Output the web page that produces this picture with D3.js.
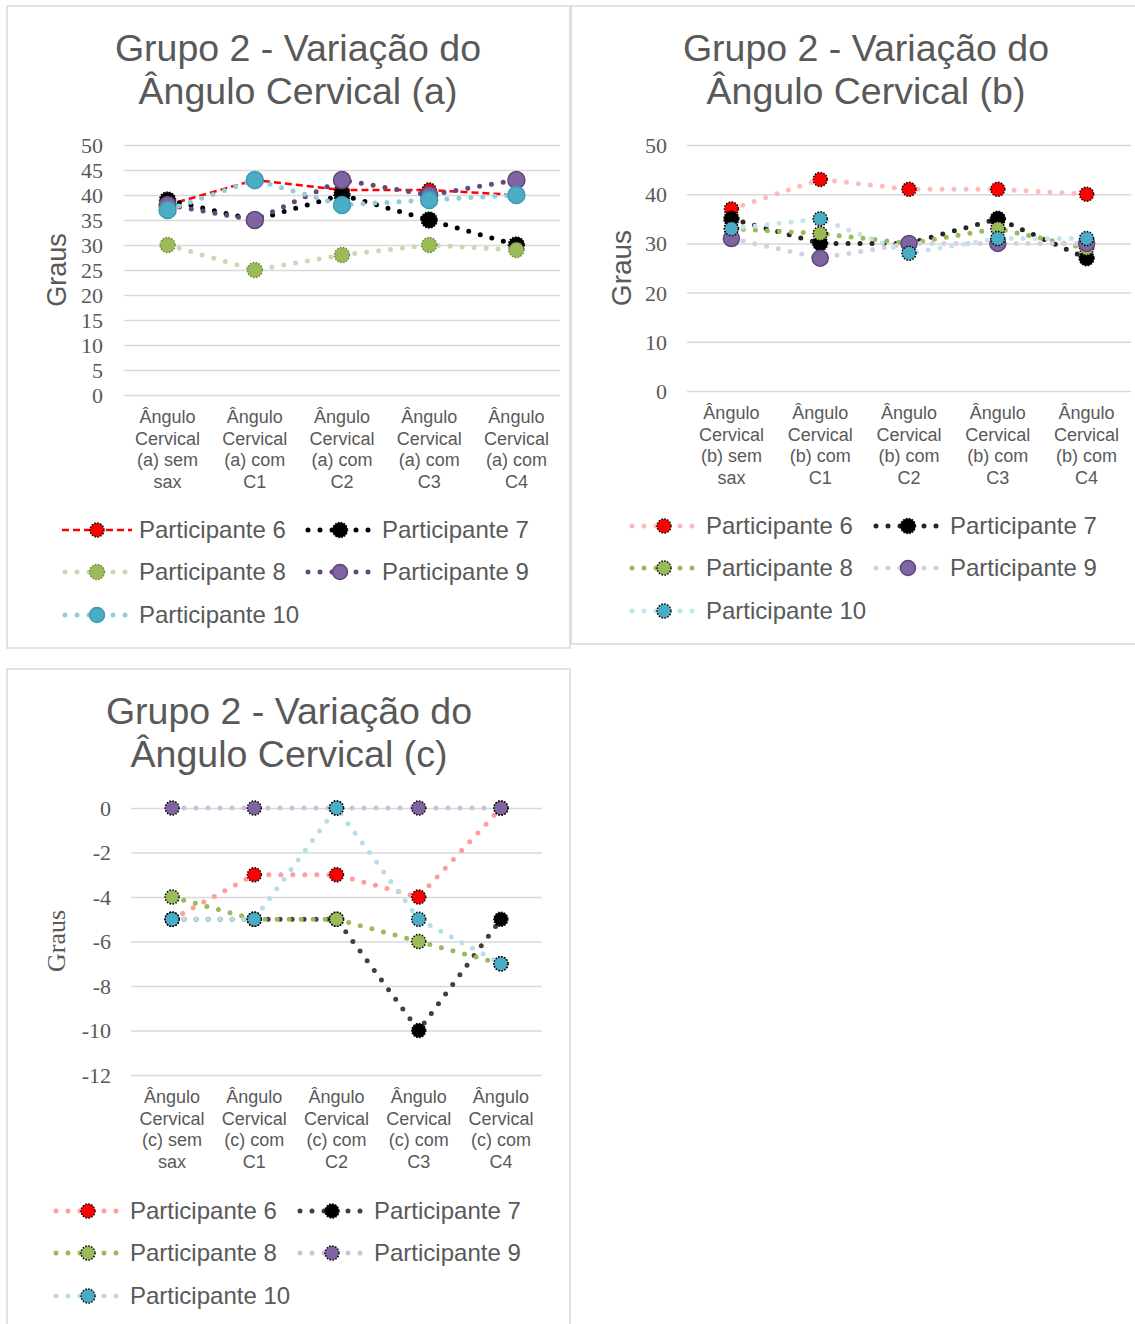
<!DOCTYPE html>
<html>
<head>
<meta charset="utf-8">
<script src="https://cdn.jsdelivr.net/npm/d3@7"></script>
<style>
  html, body { margin: 0; padding: 0; background: #ffffff; }
  svg { display: block; }
</style>
</head>
<body>
<svg id="chart" width="1135" height="1324"></svg>
<script>
// ---------------- DATA ----------------
const seriesNames = ["Participante 6", "Participante 7", "Participante 8", "Participante 9", "Participante 10"];

const categoriesA = [
  ["Ângulo", "Cervical", "(a) sem", "sax"],
  ["Ângulo", "Cervical", "(a) com", "C1"],
  ["Ângulo", "Cervical", "(a) com", "C2"],
  ["Ângulo", "Cervical", "(a) com", "C3"],
  ["Ângulo", "Cervical", "(a) com", "C4"]
];
const categoriesB = [
  ["Ângulo", "Cervical", "(b) sem", "sax"],
  ["Ângulo", "Cervical", "(b) com", "C1"],
  ["Ângulo", "Cervical", "(b) com", "C2"],
  ["Ângulo", "Cervical", "(b) com", "C3"],
  ["Ângulo", "Cervical", "(b) com", "C4"]
];
const categoriesC = [
  ["Ângulo", "Cervical", "(c) sem", "sax"],
  ["Ângulo", "Cervical", "(c) com", "C1"],
  ["Ângulo", "Cervical", "(c) com", "C2"],
  ["Ângulo", "Cervical", "(c) com", "C3"],
  ["Ângulo", "Cervical", "(c) com", "C4"]
];

// values per participant (6,7,8,9,10)
const valuesA = [
  [38, 43, 41, 41, 40],
  [39, 35, 40, 35, 30],
  [30, 25, 28, 30, 29],
  [38, 35, 43, 40, 43],
  [37, 43, 38, 39, 40]
];
const valuesB = [
  [37, 43, 41, 41, 40],
  [35, 30, 30, 35, 27],
  [33, 32, 30, 33, 29],
  [31, 27, 30, 30, 30],
  [33, 35, 28, 31, 31]
];
const valuesC = [
  [-5, -3, -3, -4, 0],
  [-5, -5, -5, -10, -5],
  [-4, -5, -5, -6, -7],
  [0, 0, 0, 0, 0],
  [-5, -5, 0, -5, -7]
];

const ticksA = [0, 5, 10, 15, 20, 25, 30, 35, 40, 45, 50];
const ticksB = [0, 10, 20, 30, 40, 50];
const ticksC = [0, -2, -4, -6, -8, -10, -12];

const titleA = ["Grupo 2 - Variação do", "Ângulo Cervical (a)"];
const titleB = ["Grupo 2 - Variação do", "Ângulo Cervical (b)"];
const titleC = ["Grupo 2 - Variação do", "Ângulo Cervical (c)"];
const axisTitle = "Graus";

// ---------------- STYLES ----------------
const TEXT = "#595959";
const GRID = "#d9d9d9";
const SANS = "'Liberation Sans', Arial, sans-serif";
const SERIF = "'Liberation Serif', 'Times New Roman', serif";

const DOTTED = { width: 5, dash: "0 12" };

const styleA = [
  { line: "#ff0000", width: 2.5, dash: "7 4", fill: "#ff0000", stroke: "#000000", sdash: "1.5 1.5", r: 7 },
  { line: "#000000", ...DOTTED, fill: "#000000", stroke: "#000000", sdash: "1.5 1.5", r: 8 },
  { line: "#cbd8b5", ...DOTTED, fill: "#9bbb59", stroke: "#71893f", sdash: "1.5 1.5", r: 7.5 },
  { line: "#604a7b", ...DOTTED, fill: "#8064a2", stroke: "#5c4776", sdash: null, r: 8.5 },
  { line: "#92cddc", ...DOTTED, fill: "#4bacc6", stroke: "#3e9ab3", sdash: null, r: 8.5 }
];
const styleB = [
  { line: "#ffbaba", ...DOTTED, fill: "#ff0000", stroke: "#000000", sdash: "1.5 1.5", r: 7 },
  { line: "#262626", ...DOTTED, fill: "#000000", stroke: "#000000", sdash: "1.5 1.5", r: 7.5 },
  { line: "#9bbb59", ...DOTTED, fill: "#9bbb59", stroke: "#000000", sdash: "1.5 1.5", r: 7 },
  { line: "#d6cfe2", ...DOTTED, fill: "#8064a2", stroke: "#5c4776", sdash: null, r: 8 },
  { line: "#c3e4ed", ...DOTTED, fill: "#4bacc6", stroke: "#000000", sdash: "1.5 1.5", r: 7 }
];
const styleC = [
  { line: "#ff9c9c", ...DOTTED, fill: "#ff0000", stroke: "#000000", sdash: "1.5 1.5", r: 7 },
  { line: "#404040", ...DOTTED, fill: "#000000", stroke: "#000000", sdash: "1.5 1.5", r: 7 },
  { line: "#9bbb59", ...DOTTED, fill: "#9bbb59", stroke: "#000000", sdash: "1.5 1.5", r: 7 },
  { line: "#ccc1da", ...DOTTED, fill: "#8064a2", stroke: "#000000", sdash: "1.5 1.5", r: 7 },
  { line: "#b7dee8", ...DOTTED, fill: "#4bacc6", stroke: "#000000", sdash: "1.5 1.5", r: 7 }
];

const svg = d3.select("#chart");

function drawChart(cfg) {
  const g = svg.append("g");
  // panel border
  g.append("rect")
    .attr("x", cfg.panel[0]).attr("y", cfg.panel[1])
    .attr("width", cfg.panel[2]).attr("height", cfg.panel[3])
    .attr("fill", "#fff").attr("stroke", GRID).attr("stroke-width", 1.5);

  // title
  const t = g.append("text")
    .attr("text-anchor", "middle")
    .attr("font-family", SANS).attr("font-size", cfg.titleSize)
    .attr("fill", TEXT);
  cfg.title.forEach((line, i) => {
    t.append("tspan").attr("x", cfg.titleX).attr("y", cfg.titleY + i * cfg.titleLH).text(line);
  });

  const x = d3.scaleBand().domain(d3.range(cfg.categories.length))
    .range([cfg.x0, cfg.x1]).paddingInner(0).paddingOuter(0);
  const y = d3.scaleLinear().domain(cfg.yDomain).range([cfg.yBottom, cfg.yTop]);
  const cx = i => x(i) + x.bandwidth() / 2;

  // gridlines via axis
  const yAxisGrid = d3.axisLeft(y).tickValues(cfg.ticks).tickSize(-(cfg.x1 - cfg.x0)).tickFormat("");
  const gg = g.append("g").attr("transform", `translate(${cfg.x0},0)`).call(yAxisGrid);
  gg.select(".domain").remove();
  gg.selectAll(".tick line").attr("stroke", GRID).attr("stroke-width", 1.5);

  // y tick labels via axis
  const yAxis = d3.axisLeft(y).tickValues(cfg.ticks).tickSize(0).tickPadding(0).tickFormat(d3.format("d"));
  const ya = g.append("g").attr("transform", `translate(${cfg.tickRight},0)`).call(yAxis);
  ya.select(".domain").remove();
  ya.selectAll(".tick text")
    .attr("font-family", SERIF).attr("font-size", cfg.tickSize)
    .attr("fill", TEXT).attr("dy", "0.34em")
    .text(d => String(d));

  // y axis title
  g.append("text")
    .attr("transform", `translate(${cfg.axisTitleX},${cfg.axisTitleY}) rotate(-90)`)
    .attr("text-anchor", "middle").attr("dy", "0.35em")
    .attr("font-family", cfg.axisTitleFont).attr("font-size", cfg.axisTitleSize)
    .attr("fill", TEXT).text(axisTitle);

  // category labels
  cfg.categories.forEach((lines, i) => {
    const tt = g.append("text").attr("text-anchor", "middle")
      .attr("font-family", SANS).attr("font-size", cfg.catSize).attr("fill", TEXT);
    lines.forEach((ln, j) => {
      tt.append("tspan").attr("x", cx(i)).attr("y", cfg.catY + j * cfg.catLH).text(ln);
    });
  });

  // series
  const line = d3.line().x((d, i) => cx(i)).y(d => y(d));
  cfg.values.forEach((vals, s) => {
    const st = cfg.styles[s];
    g.append("path").datum(vals)
      .attr("d", line).attr("fill", "none")
      .attr("stroke", st.line).attr("stroke-width", st.width)
      .attr("stroke-dasharray", st.dash)
      .attr("stroke-linecap", st.dash === "0 12" ? "round" : "butt")
      .attr("stroke-linejoin", "round");
    g.selectAll(null).data(vals).enter().append("circle")
      .attr("cx", (d, i) => cx(i)).attr("cy", d => y(d)).attr("r", st.r)
      .attr("fill", st.fill).attr("stroke", st.stroke).attr("stroke-width", 1.5)
      .attr("stroke-dasharray", st.sdash);
  });

  // legend
  seriesNames.forEach((name, s) => {
    const st = cfg.styles[s];
    const col = s % 2, row = Math.floor(s / 2);
    const lx = cfg.legX[col], ly = cfg.legY[row];
    const isDot = st.dash === "0 12";
    g.append("line")
      .attr("x1", isDot ? lx + 3 : lx).attr("x2", lx + 70).attr("y1", ly).attr("y2", ly)
      .attr("stroke", st.line).attr("stroke-width", st.width)
      .attr("stroke-dasharray", st.dash)
      .attr("stroke-linecap", isDot ? "round" : "butt");
    g.append("circle").attr("cx", lx + 35).attr("cy", ly).attr("r", Math.min(st.r, 7.5))
      .attr("fill", st.fill).attr("stroke", st.stroke).attr("stroke-width", 1.5)
      .attr("stroke-dasharray", st.sdash);
    g.append("text").attr("x", lx + 77).attr("y", ly).attr("dy", "0.35em")
      .attr("font-family", SANS).attr("font-size", cfg.legSize).attr("fill", TEXT)
      .text(name);
  });
}

drawChart({
  panel: [7, 6, 563, 642],
  title: titleA, titleX: 298, titleY: 61, titleLH: 43, titleSize: 37.5,
  categories: categoriesA, values: valuesA, styles: styleA,
  x0: 124, x1: 560, yDomain: [0, 50], yBottom: 395, yTop: 145, ticks: ticksA,
  tickRight: 103, tickSize: 22,
  axisTitleX: 57, axisTitleY: 270, axisTitleFont: SANS, axisTitleSize: 27,
  catY: 423, catLH: 21.6, catSize: 18,
  legX: [62, 305], legY: [530, 572, 615], legSize: 24
});

drawChart({
  panel: [571, 6, 570, 638],
  title: titleB, titleX: 866, titleY: 61, titleLH: 43, titleSize: 37.5,
  categories: categoriesB, values: valuesB, styles: styleB,
  x0: 687, x1: 1131, yDomain: [0, 50], yBottom: 391, yTop: 145, ticks: ticksB,
  tickRight: 667, tickSize: 22,
  axisTitleX: 621, axisTitleY: 268, axisTitleFont: SANS, axisTitleSize: 28,
  catY: 419, catLH: 21.6, catSize: 18,
  legX: [629, 873], legY: [526, 568, 611], legSize: 24
});

drawChart({
  panel: [7, 669, 563, 660],
  title: titleC, titleX: 289, titleY: 724, titleLH: 43, titleSize: 37.5,
  categories: categoriesC, values: valuesC, styles: styleC,
  x0: 131, x1: 542, yDomain: [-12, 0], yBottom: 1075, yTop: 808, ticks: ticksC,
  tickRight: 111, tickSize: 22,
  axisTitleX: 56, axisTitleY: 941, axisTitleFont: SERIF, axisTitleSize: 26,
  catY: 1103, catLH: 21.6, catSize: 18,
  legX: [53, 297], legY: [1211, 1253, 1296], legSize: 24
});
</script>
</body>
</html>
